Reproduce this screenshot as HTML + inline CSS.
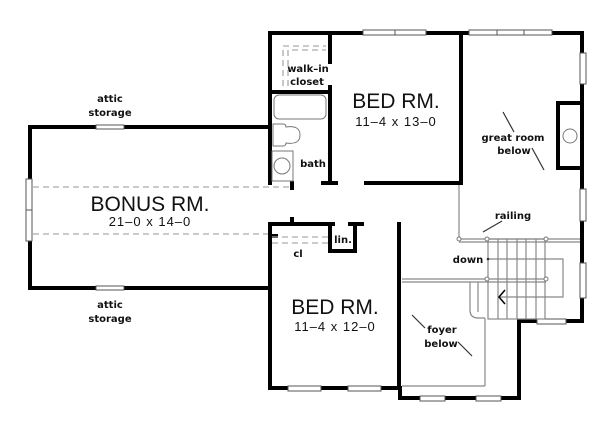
<!DOCTYPE html>
<html><head><meta charset="utf-8"><style>
html,body{margin:0;padding:0;background:#fff;}
svg{display:block;}
text{font-family:"DejaVu Sans","Liberation Sans",sans-serif;fill:#111;}
.s{font-size:10px;font-weight:bold;}
.big{font-family:"Liberation Sans",sans-serif;font-size:21px;}
.dim{font-family:"Liberation Sans",sans-serif;font-size:13px;letter-spacing:1px;}
</style></head><body>
<svg width="600" height="429" viewBox="0 0 600 429" xmlns="http://www.w3.org/2000/svg">
<g stroke="#000" stroke-width="4" fill="none" stroke-linecap="square">
<polyline points="270,127 30,127 30,180"/>
<polyline points="30,240 30,288 270,288"/>
<line x1="270" y1="33" x2="270" y2="183"/>
<polyline points="270,224 270,388 400,388 400,398 519,398 519,321 582,321 582,33 270,33"/>
<line x1="270" y1="92" x2="330" y2="92"/>
<line x1="330" y1="33" x2="330" y2="62"/>
<line x1="330" y1="87" x2="330" y2="183"/>
<line x1="323" y1="183" x2="336" y2="183"/>
<line x1="366" y1="183" x2="461" y2="183"/>
<line x1="461" y1="33" x2="461" y2="183"/>
<line x1="292" y1="183" x2="292" y2="188"/>
<line x1="270" y1="224" x2="333" y2="224"/>
<line x1="292" y1="219" x2="292" y2="224"/>
<line x1="270" y1="236" x2="276" y2="236"/>
<polyline points="330,224 330,251 355,251 355,224"/>
<line x1="350" y1="224" x2="362" y2="224"/>
<line x1="399" y1="224" x2="399" y2="388"/>
<polyline points="582,103 558,103 558,168 582,168"/>
</g>
<g fill="#fff" stroke="#555" stroke-width="1">
<rect x="96" y="125" width="28" height="4"/>
<rect x="96" y="286" width="28" height="4"/>
<rect x="26" y="179" width="6" height="62"/>
<rect x="363" y="30" width="63" height="5"/>
<rect x="469" y="30" width="83" height="5"/>
<rect x="580" y="53" width="6" height="31"/>
<rect x="580" y="189" width="6" height="32"/>
<rect x="580" y="263" width="6" height="35"/>
<rect x="537" y="319" width="29" height="5"/>
<rect x="288" y="386" width="33" height="5"/>
<rect x="348" y="386" width="33" height="5"/>
<rect x="420" y="396" width="25" height="5"/>
<rect x="476" y="396" width="25" height="5"/>
</g>
<g stroke="#555" stroke-width="1">
<line x1="395" y1="30" x2="395" y2="35"/><line x1="497" y1="30" x2="497" y2="35"/><line x1="524" y1="30" x2="524" y2="35"/>
<line x1="26" y1="210" x2="32" y2="210"/>
</g>
<g stroke="#aaa" stroke-width="1.3" stroke-dasharray="6,4" fill="none">
<line x1="33" y1="187" x2="292" y2="187"/>
<line x1="33" y1="234" x2="268" y2="234"/>
<line x1="272" y1="237" x2="328" y2="237"/>
<line x1="272" y1="243" x2="328" y2="243"/>
<polyline points="283,86 283,46 326,46"/>
<polyline points="288,86 288,50 326,50"/>
</g>
<g stroke="#777" stroke-width="1" fill="#fff">
<rect x="274" y="95" width="52" height="24" rx="5"/>
<path d="M273,124 h10 q3,0 3,3 q14,-2 14,8 q0,10 -14,8 q0,3 -3,3 h-10 z"/>
<rect x="272" y="151" width="21" height="30"/>
<circle cx="282" cy="166" r="8"/>
<circle cx="570" cy="136" r="7"/>
</g>
<g stroke="#888" stroke-width="1.2" fill="none">
<line x1="459" y1="185" x2="459" y2="239"/>
<line x1="459" y1="239" x2="580" y2="239"/>
<line x1="459" y1="242" x2="580" y2="242"/>
<line x1="402" y1="279" x2="546" y2="279"/>
<line x1="402" y1="282" x2="546" y2="282"/>
<rect x="488" y="239" width="57" height="80"/>
<line x1="498" y1="239" x2="498" y2="319"/><line x1="507" y1="239" x2="507" y2="319"/>
<line x1="517" y1="239" x2="517" y2="319"/><line x1="526" y1="239" x2="526" y2="319"/>
<line x1="536" y1="239" x2="536" y2="319"/>
<polyline points="488,259 563,259 563,297 500,297"/>
<line x1="485" y1="318" x2="485" y2="386"/>
<line x1="402" y1="386" x2="485" y2="386"/>
<path d="M470,282 V310 q0,8 8,8 h7"/>
<line x1="478" y1="282" x2="478" y2="312"/>
<line x1="483" y1="232" x2="502" y2="221" stroke="#333"/>
<line x1="503" y1="112" x2="514" y2="132" stroke="#333"/>
<line x1="532" y1="148" x2="544" y2="170" stroke="#333"/>
<line x1="412" y1="315" x2="425" y2="328" stroke="#333"/>
<line x1="458" y1="342" x2="472" y2="356" stroke="#333"/>
</g>
<polyline points="505,290 499,297 505,304" stroke="#000" stroke-width="1.5" fill="none"/>
<g fill="#fff" stroke="#777" stroke-width="1">
<circle cx="459" cy="239" r="2"/><circle cx="487" cy="239" r="2"/><circle cx="546" cy="239" r="2"/>
<circle cx="487" cy="279" r="2"/><circle cx="546" cy="279" r="2"/>
</g>
<circle cx="488" cy="259" r="1.3" fill="#333"/>
<text class="s" x="110" y="102" text-anchor="middle">attic</text>
<text class="s" x="110" y="116" text-anchor="middle">storage</text>
<text class="s" x="110" y="308" text-anchor="middle">attic</text>
<text class="s" x="110" y="322" text-anchor="middle">storage</text>
<text class="big" x="150" y="211" text-anchor="middle">BONUS RM.</text>
<text class="dim" x="150" y="226" text-anchor="middle">21–0 x 14–0</text>
<text class="big" x="396" y="108" text-anchor="middle">BED RM.</text>
<text class="dim" x="396" y="126" text-anchor="middle">11–4 x 13–0</text>
<text class="big" x="335" y="314" text-anchor="middle">BED RM.</text>
<text class="dim" x="335" y="331" text-anchor="middle">11–4 x 12–0</text>
<text class="s" x="308" y="72" text-anchor="middle">walk–in</text>
<text class="s" x="307" y="85" text-anchor="middle">closet</text>
<text class="s" x="313" y="167" text-anchor="middle">bath</text>
<text class="s" x="513" y="141" text-anchor="middle">great room</text>
<text class="s" x="514" y="154" text-anchor="middle">below</text>
<text class="s" x="513" y="219" text-anchor="middle">railing</text>
<text class="s" x="468" y="263" text-anchor="middle">down</text>
<text class="s" x="343" y="243" text-anchor="middle">lin.</text>
<text class="s" x="298" y="257" text-anchor="middle">cl</text>
<text class="s" x="442" y="333" text-anchor="middle">foyer</text>
<text class="s" x="441" y="347" text-anchor="middle">below</text>
</svg>
</body></html>
